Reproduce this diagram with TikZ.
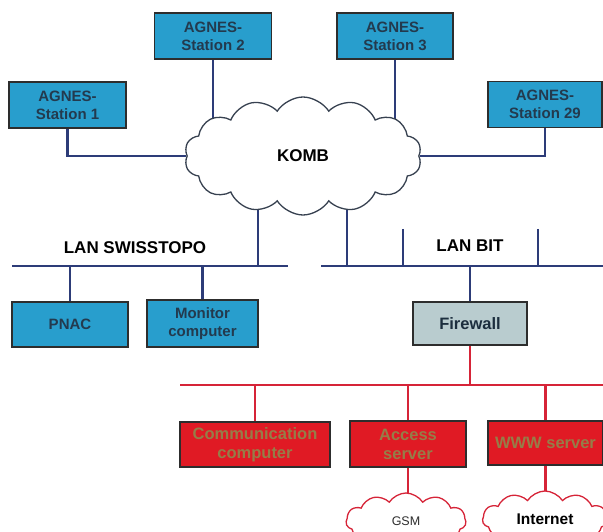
\documentclass[tikz,border=0pt]{standalone}
\usepackage{fontspec}
\setmainfont{Liberation Sans}
\usetikzlibrary{shapes.symbols,backgrounds}
\definecolor{agnesblue}{RGB}{40,158,205}
\definecolor{boxtext}{RGB}{35,58,78}
\definecolor{lineblue}{RGB}{45,60,120}
\definecolor{fwgray}{RGB}{185,204,207}
\definecolor{redfill}{RGB}{224,26,36}
\definecolor{redtext}{RGB}{150,125,72}
\definecolor{linered}{RGB}{214,36,56}
\definecolor{boxline}{RGB}{45,45,45}
\definecolor{cloudline}{RGB}{55,65,80}
\tikzset{
 stbox/.style={draw=boxline,line width=1.4pt,fill=agnesblue,text=boxtext,align=center,
  inner sep=0pt,minimum height=46pt,font=\fontsize{15}{18}\selectfont\bfseries},
 fwbox/.style={stbox,fill=fwgray,text=boxtext!80!black,font=\fontsize{16.5}{19}\selectfont\bfseries},
 redbox/.style={stbox,fill=redfill,text=redtext,font=\fontsize{16.5}{19}\selectfont\bfseries},
 netcloud/.style={cloud,draw=cloudline,fill=white,line width=1.3pt,cloud puffs=14,
  cloud puff arc=115,aspect=2,inner sep=0pt},
 redcloud/.style={netcloud,draw=linered,cloud puffs=11},
 lanlabel/.style={font=\fontsize{17}{20}\selectfont\bfseries,inner sep=0pt},
 blueline/.style={draw=lineblue,line width=2.3pt},
 redline/.style={draw=linered,line width=2.3pt}
}
\begin{document}
\begin{tikzpicture}[x=1pt,y=-1pt]
 \useasboundingbox (0,0) rectangle (603,532);
 \clip (0,0) rectangle (603,532);
 %% AGNES stations and KOMB
 \foreach \n/\x/\y/\w in {1/67.5/105/117,2/213/36/117,3/395/36/116,29/545/104.5/114}
  {\node[stbox,minimum width=\w pt] (st\n) at (\x,\y) {AGNES-\\Station \n};}
 \node[netcloud,minimum width=237pt,minimum height=118pt,
  font=\fontsize{17}{20}\selectfont\bfseries] (komb) at (303,156) {KOMB};
 %% LANs
 \node[lanlabel] (lansw) at (135,248) {LAN SWISSTOPO};
 \node[lanlabel] (lanbit) at (470,246) {LAN BIT};
 \coordinate (swa) at (12,266); \coordinate (swb) at (288,266); \coordinate (swc) at (258,266);
 \coordinate (bita) at (321,266); \coordinate (bitb) at (603,266); \coordinate (bitc) at (347,266);
 \coordinate (stubA) at (403,229); \coordinate (stubB) at (538,229);
 \node[stbox,minimum width=116pt,minimum height=45pt] (pnac) at (70,324.5) {PNAC};
 \node[stbox,minimum width=111pt,minimum height=47pt] (mon) at (202.5,323.5) {Monitor\\computer};
 \node[fwbox,minimum width=114pt,minimum height=43pt] (fw) at (470,323.5) {Firewall};
 %% red network
 \coordinate (reda) at (180,385); \coordinate (redb) at (603,385);
 \node[redbox,minimum width=150pt,minimum height=45pt] (comm) at (255,444.5) {Communication\\computer};
 \node[redbox,minimum width=116pt] (acc) at (408,444) {Access\\server};
 \node[redbox,minimum width=115pt,minimum height=44pt] (www) at (545.5,443) {WWW server};
 \node[redcloud,minimum width=120pt,minimum height=56pt,
  font=\fontsize{12.5}{15}\selectfont,text=boxline] (gsm) at (406,521) {GSM};
 \node[redcloud,minimum width=125pt,minimum height=56pt,
  font=\fontsize{15.5}{18}\selectfont\bfseries] (inet) at (545,519) {Internet};
 %% connectors
 \begin{scope}[on background layer]
  \draw[blueline] (st1.south) |- (komb.west);
  \draw[blueline] (st29.south) |- (komb.east);
  \foreach \s in {st2,st3}{\draw[blueline] (\s.south) -- (\s.south |- komb.center);}
  \draw[blueline] (swa) -- (swb);
  \draw[blueline] (bita) -- (bitb);
  \foreach \c in {swc,bitc}{\draw[blueline] (\c) -- (\c |- komb.center);}
  \foreach \c in {stubA,stubB}{\draw[blueline] (\c) -- (\c |- bita);}
  \foreach \b in {pnac,mon}{\draw[blueline] (\b.north) -- (\b.north |- swa);}
  \draw[blueline] (fw.north) -- (fw.north |- bita);
  \draw[redline] (fw.south) -- (fw.south |- reda);
  \draw[redline] (reda) -- (redb);
  \foreach \b in {comm,acc,www}{\draw[redline] (\b.north) -- (\b.north |- reda);}
  \draw[redline] (acc.south) -- (acc.south |- gsm.center);
  \draw[redline] (www.south) -- (www.south |- inet.center);
 \end{scope}
\end{tikzpicture}
\end{document}
